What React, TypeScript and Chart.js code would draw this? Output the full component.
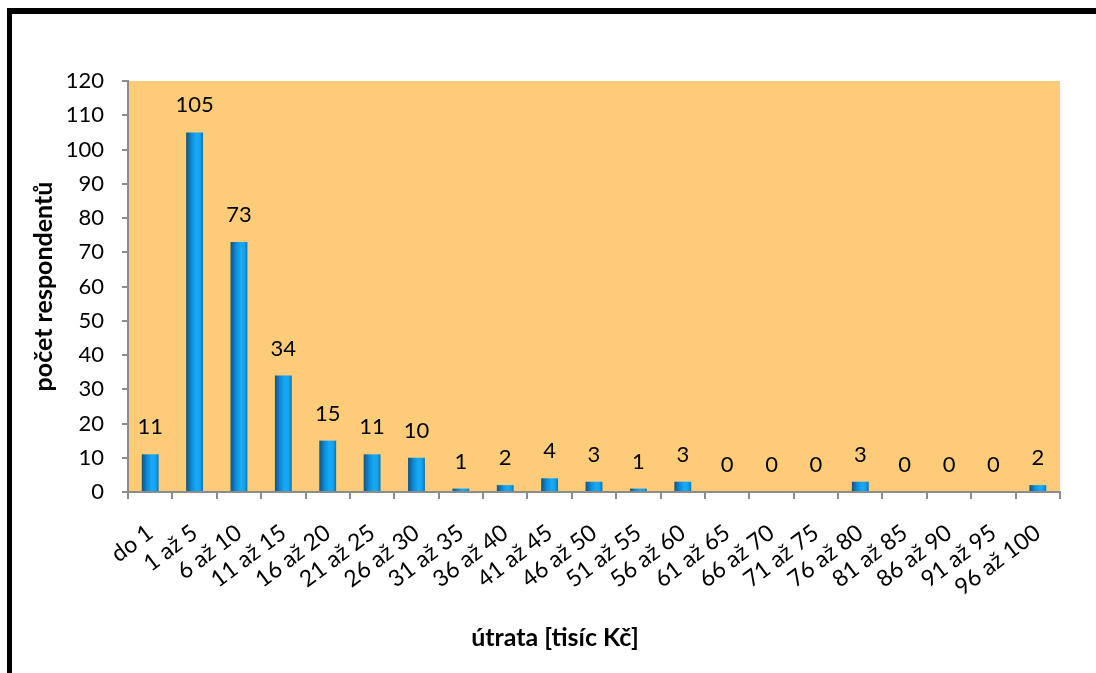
import React, { useEffect, useRef } from "react";
import { Chart, registerables } from "chart.js";

Chart.register(...registerables);

const categories = [
  "do 1", "1 až 5", "6 až 10", "11 až 15", "16 až 20", "21 až 25", "26 až 30",
  "31 až 35", "36 až 40", "41 až 45", "46 až 50", "51 až 55", "56 až 60",
  "61 až 65", "66 až 70", "71 až 75", "76 až 80", "81 až 85", "86 až 90",
  "91 až 95", "96 až 100",
];
const counts = [11, 105, 73, 34, 15, 11, 10, 1, 2, 4, 3, 1, 3, 0, 0, 0, 3, 0, 0, 0, 2];
const yTicks = [0, 10, 20, 30, 40, 50, 60, 70, 80, 90, 100, 110, 120];
const xTitle = "útrata [tisíc Kč]";
const yTitle = "počet respondentů";

const FONT = "Lato, 'Open Sans', sans-serif";
const BAR_PCT = 0.38;

export default function App() {
  const ref = useRef<HTMLCanvasElement | null>(null);

  useEffect(() => {
    if (!ref.current) return;

    const plotBg = {
      id: "plotBg",
      beforeDraw(chart: any) {
        const { ctx, chartArea } = chart;
        ctx.save();
        ctx.fillStyle = "#FDCC78";
        ctx.fillRect(chartArea.left, chartArea.top, chartArea.right - chartArea.left, chartArea.bottom - chartArea.top);
        ctx.restore();
      },
    };

    const valueLabels = {
      id: "valueLabels",
      afterDatasetsDraw(chart: any) {
        const { ctx } = chart;
        const meta = chart.getDatasetMeta(0);
        ctx.save();
        ctx.font = `22px ${FONT}`;
        ctx.fillStyle = "#000";
        ctx.textAlign = "center";
        ctx.textBaseline = "alphabetic";
        meta.data.forEach((bar: any, i: number) => {
          ctx.fillText(String(counts[i]), bar.x, bar.y - 20);
        });
        ctx.restore();
      },
    };

    // x-axis title, centred on the whole chart (as in the original) rather than on the plot area
    const xAxisTitle = {
      id: "xAxisTitle",
      afterDraw(chart: any) {
        const { ctx } = chart;
        ctx.save();
        ctx.font = `bold 25px ${FONT}`;
        ctx.fillStyle = "#000";
        ctx.textAlign = "center";
        ctx.textBaseline = "middle";
        ctx.fillText(xTitle, 555, 638);
        ctx.restore();
      },
    };

    const barGradient = (context: any) => {
      const chart = context.chart;
      const xs = chart.scales?.x;
      if (!xs || !chart.chartArea || context.dataIndex === undefined) return "#0F9BE8";
      const cx = xs.getPixelForValue(context.dataIndex);
      const w = (xs.width / categories.length) * BAR_PCT;
      const g = chart.ctx.createLinearGradient(cx - w / 2, 0, cx + w / 2, 0);
      g.addColorStop(0, "#26506E");
      g.addColorStop(0.12, "#0A68A6");
      g.addColorStop(0.3, "#0C8AD4");
      g.addColorStop(0.6, "#17AAF8");
      g.addColorStop(0.82, "#13A2F0");
      g.addColorStop(1, "#0A74B4");
      return g;
    };

    const chart = new Chart(ref.current, {
      type: "bar",
      data: {
        labels: categories,
        datasets: [
          {
            data: counts,
            backgroundColor: barGradient,
            borderWidth: 0,
            barPercentage: BAR_PCT,
            categoryPercentage: 1,
          },
        ],
      },
      options: {
        responsive: false,
        animation: false,
        layout: { padding: { left: 29, top: 81, right: 36, bottom: 22 } },
        plugins: {
          legend: { display: false },
          tooltip: { enabled: false },
        },
        scales: {
          x: {
            afterFit(scale: any) {
              scale.height = 159;
            },
            border: { display: true, color: "#8C8C8C", width: 2 },
            grid: {
              display: true,
              drawOnChartArea: false,
              drawTicks: true,
              tickLength: 7,
              tickColor: "#8C8C8C",
              lineWidth: 2,
              offset: true,
            },
            ticks: {
              autoSkip: false,
              minRotation: 37,
              maxRotation: 37,
              padding: 20,
              color: "#000",
              font: { family: FONT, size: 23 },
            },
            title: { display: false },
          },
          y: {
            min: 0,
            max: 120,
            afterFit(scale: any) {
              scale.width = 99;
            },
            afterBuildTicks(scale: any) {
              scale.ticks = yTicks.map((v) => ({ value: v }));
            },
            border: { display: true, color: "#8C8C8C", width: 2 },
            grid: {
              display: true,
              drawOnChartArea: false,
              drawTicks: true,
              tickLength: 6,
              tickColor: "#8C8C8C",
              lineWidth: 2,
            },
            ticks: {
              padding: 18,
              color: "#000",
              font: { family: FONT, size: 22 },
            },
            title: {
              display: true,
              text: yTitle,
              color: "#000",
              padding: 0,
              font: { family: FONT, size: 25, weight: "bold", lineHeight: 1.2 },
            },
          },
        },
      },
      plugins: [plotBg, valueLabels, xAxisTitle],
    } as any);

    return () => chart.destroy();
  }, []);

  return (
    <div
      style={{
        position: "fixed",
        left: 0,
        top: 0,
        width: 1096,
        height: 673,
        overflow: "hidden",
        background: "#fff",
      }}
    >
      <canvas
        ref={ref}
        width={1096}
        height={673}
        style={{ position: "absolute", left: 0, top: 0, width: 1096, height: 673 }}
      />
      <div
        style={{
          position: "absolute",
          left: 7,
          top: 8,
          width: 1300,
          height: 900,
          borderLeft: "5px solid #000",
          borderTop: "6px solid #000",
          boxShadow: "2px 2px 2px #bbb",
          pointerEvents: "none",
        }}
      />
    </div>
  );
}
